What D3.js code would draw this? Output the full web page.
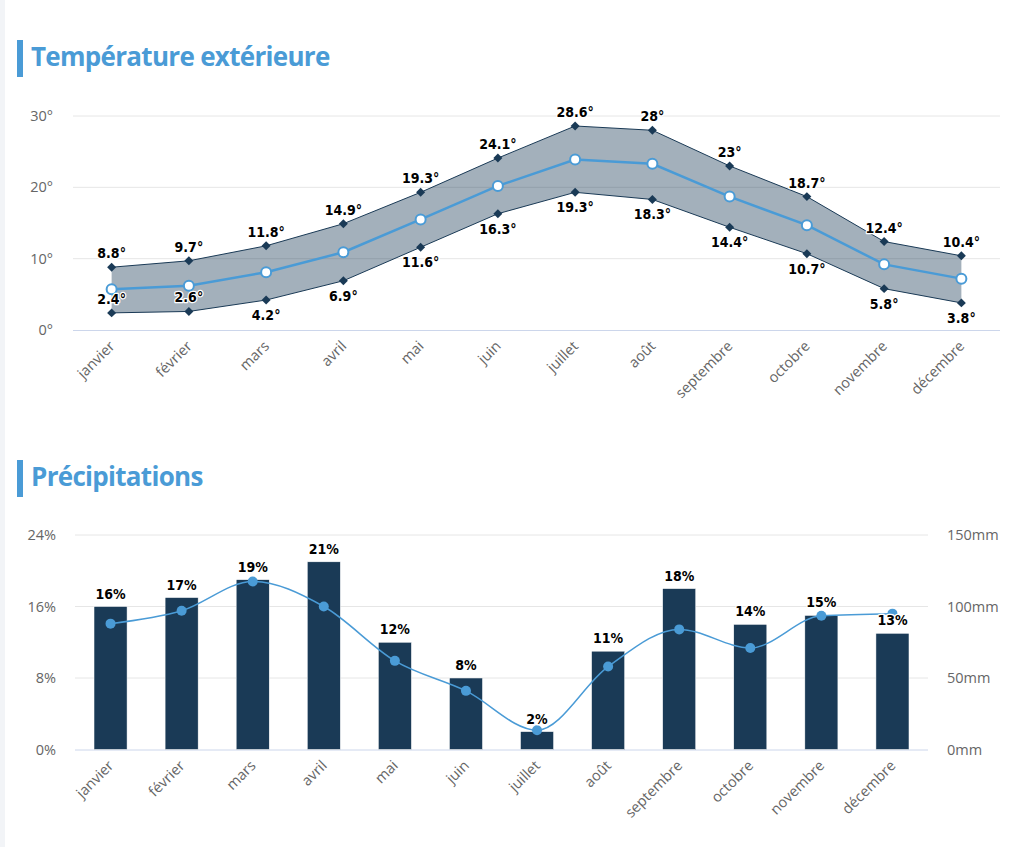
<!DOCTYPE html>
<html><head><meta charset="utf-8">
<script src="https://cdn.jsdelivr.net/npm/d3@7/dist/d3.min.js"></script>
<style>
html,body{margin:0;padding:0;background:#fff;}
svg{display:block;}
</style></head>
<body>
<svg id="c" width="1024" height="847"></svg>
<script>
const months = ["janvier","février","mars","avril","mai","juin","juillet","août","septembre","octobre","novembre","décembre"];
const tempMax = [8.8,9.7,11.8,14.9,19.3,24.1,28.6,28,23,18.7,12.4,10.4];
const tempMin = [2.4,2.6,4.2,6.9,11.6,16.3,19.3,18.3,14.4,10.7,5.8,3.8];
const tempMean = [5.7,6.2,8.1,10.9,15.5,20.2,23.9,23.3,18.7,14.7,9.2,7.2];
const tempTicks = [0,10,20,30];
const precipPct = [16,17,19,21,12,8,2,11,18,14,15,13];
const precipMm = [88,97,117.5,100,62,41,13.5,58,84,71,93.5,95];
const pctTicks = [0,8,16,24];
const mmTicks = [0,50,100,150];

const svg = d3.select("#c");
const BLUE = "#4a9bd6", NAVY = "#1a3a56", GRID = "#e6e6e6", AXIS = "#ccd6eb", LBL = "#666666";
const AXFONT = "'Open Sans', Lato, sans-serif";
const TFONT = "'Open Sans', Lato, sans-serif";
const DLFONT = "'DejaVu Sans Condensed', 'DejaVu Sans', Verdana, sans-serif";

svg.append("rect").attr("x",0).attr("y",0).attr("width",5).attr("height",847).attr("fill","#f2f4f7");

function title(y, txt){
  svg.append("rect").attr("x",17).attr("y",y-26).attr("width",6).attr("height",37).attr("fill",BLUE);
  svg.append("text").attr("x",31).attr("y",y).attr("font-family",TFONT).attr("font-weight",700)
    .attr("font-size",26).attr("letter-spacing",-0.7).attr("fill",BLUE).text(txt);
}
title(66,"Température extérieure");
title(486,"Précipitations");

function dlabel(g, x, y, txt){
  g.append("text").attr("x",x).attr("y",y).attr("text-anchor","middle")
   .attr("font-family",DLFONT).attr("font-weight","bold").attr("font-size",14)
   .attr("fill","#000").attr("stroke","#fff").attr("stroke-width",2.5).attr("stroke-linejoin","round")
   .attr("paint-order","stroke").text(txt);
}

function xLabels(g, x, axisY){
  g.selectAll(".xl").data(months).enter().append("text")
   .attr("transform", d => `translate(${x(d)+4},${axisY+17}) rotate(-45)`)
   .attr("text-anchor","end").attr("font-family",AXFONT).attr("font-size",14.5).attr("fill",LBL).text(d=>d);
}

/* ---------- Chart 1 ---------- */
{
  const L=73, R=1000, T=116, B=330;
  const x = d3.scalePoint().domain(months).range([L,R]).padding(0.5);
  const y = d3.scaleLinear().domain([0,30]).range([B,T]);
  const g = svg.append("g");
  g.selectAll(".gl").data(tempTicks.filter(d=>d>0)).enter().append("line")
   .attr("x1",L).attr("x2",R).attr("y1",d=>y(d)).attr("y2",d=>y(d)).attr("stroke",GRID);
  g.append("line").attr("x1",L).attr("x2",R).attr("y1",B+0.5).attr("y2",B+0.5).attr("stroke",AXIS);
  g.selectAll(".yl").data(tempTicks).enter().append("text").attr("x",53).attr("y",d=>y(d)+5)
   .attr("text-anchor","end").attr("font-family",AXFONT).attr("font-size",14.5).attr("fill",LBL).text(d=>d+"°");
  xLabels(g, x, B);

  const idx = d3.range(months.length);
  const area = d3.area().x(i=>x(months[i])).y0(i=>y(tempMin[i])).y1(i=>y(tempMax[i]));
  g.append("path").attr("d",area(idx)).attr("fill",NAVY).attr("fill-opacity",0.4);
  const lineMax = d3.line().x(i=>x(months[i])).y(i=>y(tempMax[i]));
  const lineMin = d3.line().x(i=>x(months[i])).y(i=>y(tempMin[i]));
  g.append("path").attr("d",lineMax(idx)).attr("fill","none").attr("stroke",NAVY).attr("stroke-width",1);
  g.append("path").attr("d",lineMin(idx)).attr("fill","none").attr("stroke",NAVY).attr("stroke-width",1);
  const diamond = d3.symbol().type(d3.symbolSquare).size(40);
  idx.forEach(i=>{
    [tempMax[i],tempMin[i]].forEach(v=>{
      g.append("path").attr("d",diamond()).attr("transform",`translate(${x(months[i])},${y(v)}) rotate(45)`).attr("fill",NAVY);
    });
  });
  const lineMean = d3.line().x(i=>x(months[i])).y(i=>y(tempMean[i]));
  g.append("path").attr("d",lineMean(idx)).attr("fill","none").attr("stroke",BLUE).attr("stroke-width",2.5);
  idx.forEach(i=>{
    g.append("circle").attr("cx",x(months[i])).attr("cy",y(tempMean[i])).attr("r",5)
     .attr("fill","#fff").attr("stroke",BLUE).attr("stroke-width",2);
  });
  const fmt = v => v + "°";
  idx.forEach(i=>{
    dlabel(g, x(months[i]), y(tempMax[i]) - 9, fmt(tempMax[i]));
    const yb = y(tempMin[i]) + 20;
    dlabel(g, x(months[i]), yb > B ? y(tempMin[i]) - 9 : yb, fmt(tempMin[i]));
  });
}

/* ---------- Chart 2 ---------- */
{
  const L=75, R=928, T=535, B=749.5;
  const x = d3.scaleBand().domain(months).range([L,R]).paddingInner(0.535).paddingOuter(0.2675);
  const xc = m => x(m) + x.bandwidth()/2;
  const y = d3.scaleLinear().domain([0,24]).range([B,T]);
  const y2 = d3.scaleLinear().domain([0,150]).range([B,T]);
  const g = svg.append("g");
  g.selectAll(".gl").data(pctTicks.filter(d=>d>0)).enter().append("line")
   .attr("x1",L).attr("x2",R).attr("y1",d=>y(d)).attr("y2",d=>y(d)).attr("stroke",GRID);
  g.append("line").attr("x1",L).attr("x2",R).attr("y1",B+0.5).attr("y2",B+0.5).attr("stroke",AXIS);
  g.selectAll(".yl").data(pctTicks).enter().append("text").attr("x",56).attr("y",d=>y(d)+5)
   .attr("text-anchor","end").attr("font-family",AXFONT).attr("font-size",14.5).attr("fill",LBL).text(d=>d+"%");
  g.selectAll(".yr").data(mmTicks).enter().append("text").attr("x",947).attr("y",d=>y2(d)+5)
   .attr("text-anchor","start").attr("font-family",AXFONT).attr("font-size",14.5).attr("fill",LBL).text(d=>d+"mm");
  const xp = d3.scalePoint().domain(months).range([L,R]).padding(0.5);
  xLabels(g, xp, B);

  g.selectAll(".bar").data(months).enter().append("rect")
   .attr("x",d=>x(d)).attr("width",x.bandwidth())
   .attr("y",(d,i)=>y(precipPct[i])).attr("height",(d,i)=>B-y(precipPct[i]))
   .attr("fill",NAVY).attr("stroke","#fff").attr("stroke-width",0.5);

  const idx = d3.range(months.length);
  const line = d3.line().curve(d3.curveMonotoneX).x(i=>xc(months[i])).y(i=>y2(precipMm[i]));
  g.append("path").attr("d",line(idx)).attr("fill","none").attr("stroke",BLUE).attr("stroke-width",1.5);
  idx.forEach(i=>{
    g.append("circle").attr("cx",xc(months[i])).attr("cy",y2(precipMm[i])).attr("r",5).attr("fill",BLUE);
  });
  idx.forEach(i=>{
    dlabel(g, xc(months[i]), y(precipPct[i]) - 8, precipPct[i] + "%");
  });
}
</script>
</body></html>
